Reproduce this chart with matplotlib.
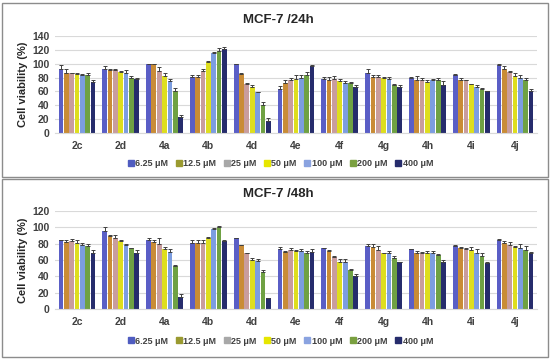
import matplotlib
matplotlib.use("Agg")
import matplotlib.pyplot as plt
import numpy as np
from matplotlib.patches import Rectangle

plt.rcParams['font.family'] = ['Liberation Sans', 'DejaVu Sans']

categories = ["2c", "2d", "4a", "4b", "4d", "4e", "4f", "4g", "4h", "4i", "4j"]
concentrations = ["6.25 μM", "12.5 μM", "25 μM", "50 μM", "100 μM", "200 μM", "400 μM"]

# 24h values: rows = compound, columns = concentration
v24 = [
    [92, 87, 86, 85, 84, 83, 74],
    [93, 91, 91, 88, 87, 80, 78],
    [100, 99, 90, 82, 75, 60, 23],
    [81, 81, 90, 102, 116, 118, 121],
    [100, 85, 71, 67, 59, 41, 17],
    [64, 72, 76, 78, 80, 83, 96],
    [78, 77, 78, 75, 72, 72, 66],
    [86, 81, 81, 79, 78, 70, 67],
    [80, 77, 76, 73, 77, 76, 70],
    [84, 77, 76, 71, 66, 63, 60],
    [98, 93, 88, 82, 80, 76, 60],
]
e24 = [
    [6, 5, 1, 1, 1, 3, 2],
    [4, 1, 1, 2, 4, 2, 1],
    [0, 1, 5, 4, 3, 5, 3],
    [2, 3, 3, 2, 1, 4, 3],
    [0, 1, 1, 2, 0, 4, 4],
    [4, 4, 4, 5, 4, 5, 2],
    [3, 4, 4, 3, 3, 1, 3],
    [6, 2, 2, 2, 3, 1, 2],
    [1, 5, 4, 3, 1, 3, 5],
    [1, 2, 1, 0, 4, 2, 1],
    [2, 3, 2, 4, 3, 3, 4],
]
v48 = [
    [84, 82, 83, 81, 78, 77, 69],
    [96, 90, 87, 83, 78, 75, 69],
    [85, 82, 79, 74, 70, 53, 15],
    [81, 81, 81, 87, 98, 101, 83],
    [87, 78, 69, 60, 59, 45, 13],
    [73, 70, 72, 71, 71, 69, 70],
    [75, 71, 64, 58, 57, 48, 41],
    [77, 76, 72, 68, 68, 62, 57],
    [73, 69, 69, 69, 69, 66, 57],
    [77, 75, 73, 72, 69, 65, 56],
    [85, 81, 78, 76, 75, 72, 69],
]
e48 = [
    [1, 3, 3, 3, 3, 3, 3],
    [5, 1, 4, 2, 2, 0, 3],
    [2, 3, 8, 2, 4, 1, 3],
    [4, 3, 3, 1, 1, 1, 2],
    [0, 0, 0, 2, 2, 3, 1],
    [3, 1, 3, 1, 2, 2, 3],
    [0, 1, 1, 3, 4, 1, 2],
    [2, 3, 5, 1, 3, 3, 1],
    [1, 2, 1, 2, 2, 1, 3],
    [1, 1, 2, 4, 4, 4, 2],
    [1, 2, 4, 1, 4, 5, 1],
]

bar_colors = ["#5a5ec6", "#c98c36", "#c99d9d", "#dede1e", "#7c9de0", "#6fa143", "#262c6c"]
legend_colors = ["#4f5cc0", "#9a9a30", "#a8a8a8", "#e6e600", "#8aa3e0", "#7aa040", "#262c6c"]

fig = plt.figure(figsize=(5.5, 3.6), dpi=100)
W, H = 550, 360

def fx(px):
    return px / W

def fy(py):
    return 1 - py / H

# panel boxes
for top, bot in [(3, 177), (179, 357)]:
    fig.patches.append(Rectangle((fx(2), fy(bot)), fx(546), (bot - top) / H,
                                 transform=fig.transFigure, fill=False,
                                 edgecolor="#8c8c8c", linewidth=1.0))

panels = [
    dict(vals=v24, errs=e24, title="MCF-7 /24h", top=36, bot=133, ymax=140,
         title_y=20, leg_y=164),
    dict(vals=v48, errs=e48, title="MCF-7 /48h", top=211, bot=309, ymax=120,
         title_y=194, leg_y=341),
]

x = np.arange(len(categories))
nb = len(concentrations)
step = 0.122
bw = 0.108

for p in panels:
    ax = fig.add_axes([fx(55), fy(p["bot"]), fx(537 - 55), (p["bot"] - p["top"]) / H])
    vals = np.array(p["vals"])
    errs = np.array(p["errs"])
    handles = []
    for j in range(nb):
        xs = x + (j - (nb - 1) / 2) * step
        ax.bar(xs, vals[:, j], width=bw, color=bar_colors[j], zorder=2)
        ax.errorbar(xs, vals[:, j], yerr=[np.zeros_like(errs[:, j]), errs[:, j]],
                    fmt="none", ecolor="#404040", elinewidth=0.7, capsize=1.5,
                    capthick=0.7, zorder=3)
        handles.append(plt.Line2D([], [], marker="s", linestyle="none",
                                  markersize=4, color=legend_colors[j]))
    ax.set_xlim(-0.5, len(categories) - 0.5)
    ax.set_ylim(0, p["ymax"])
    ax.set_yticks(np.arange(0, p["ymax"] + 1, 20))
    ax.grid(axis="y", color="#d9d9d9", linewidth=0.8, zorder=0)
    ax.set_axisbelow(True)
    for s in ["top", "right", "left"]:
        ax.spines[s].set_visible(False)
    ax.spines["bottom"].set_color("#d9d9d9")
    ax.set_xticks(x)
    ax.set_xticklabels(categories, fontsize=7.5, fontweight="bold", color="#404040")
    ax.tick_params(axis="both", length=0, pad=6)
    ax.tick_params(axis="y", pad=4)
    for lab in ax.get_yticklabels():
        lab.set_fontsize(7.5)
        lab.set_fontweight("bold")
        lab.set_color("#404040")
    ax.set_ylabel("Cell viability (%)", fontsize=8, fontweight="bold", color="#262626",
                  labelpad=3)
    fig.text(fx(278), fy(p["title_y"]), p["title"], ha="center", va="center",
             fontsize=9.5, fontweight="bold", color="#262626")
    fig.legend(handles, concentrations, loc="center", ncol=7,
               bbox_to_anchor=(fx(280), fy(p["leg_y"])), frameon=False,
               prop=dict(size=6.5, weight="bold"), labelcolor="#404040",
               handletextpad=0.05, columnspacing=0.7, handlelength=0.9)

fig.savefig("out.png", dpi=100)
